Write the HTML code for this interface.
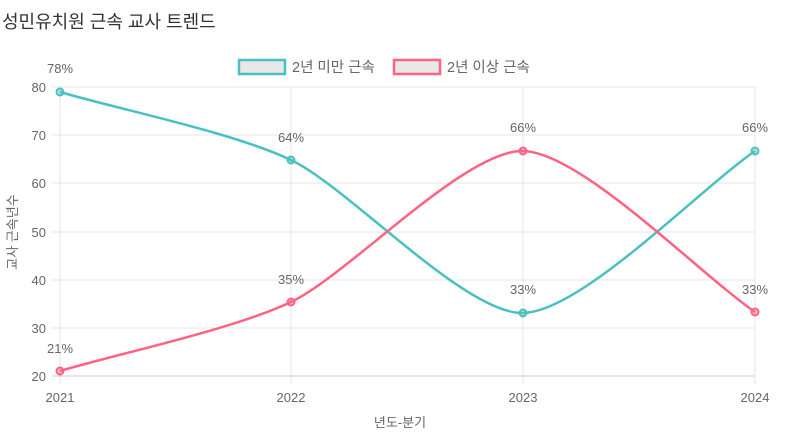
<!DOCTYPE html>
<html><head><meta charset="utf-8"><style>
body{margin:0;background:#fff;}
svg{display:block;font-family:"Liberation Sans","Noto Sans CJK KR",sans-serif;}
</style></head><body>
<svg width="799" height="445" viewBox="0 0 799 445">
<text x="2" y="28" font-size="18" fill="#333">성민유치원 근속 교사 트렌드</text>
<!-- legend -->
<rect x="239" y="60" width="46" height="14" fill="#e8e8e8" stroke="#4bc0c0" stroke-width="2.5"/>
<text x="292" y="72" font-size="14.5" fill="#666">2년 미만 근속</text>
<rect x="394" y="60" width="46" height="14" fill="#e8e8e8" stroke="#ff6384" stroke-width="2.5"/>
<text x="447" y="72" font-size="14.5" fill="#666">2년 이상 근속</text>
<!-- grid -->
<g stroke="#e5e5e5" stroke-width="1">
<line x1="52" y1="87" x2="755" y2="87"/>
<line x1="52" y1="135" x2="755" y2="135"/>
<line x1="52" y1="183" x2="755" y2="183"/>
<line x1="52" y1="232" x2="755" y2="232"/>
<line x1="52" y1="280" x2="755" y2="280"/>
<line x1="52" y1="328" x2="755" y2="328"/>
<line x1="60" y1="87" x2="60" y2="384"/>
<line x1="291" y1="87" x2="291" y2="384"/>
<line x1="523" y1="87" x2="523" y2="384"/>
<line x1="755" y1="87" x2="755" y2="384"/>
</g>
<line x1="52" y1="376" x2="755" y2="376" stroke="#ccc"/>
<g font-size="13" fill="#666" text-anchor="end">
<text x="46" y="92">80</text><text x="46" y="140">70</text><text x="46" y="188">60</text>
<text x="46" y="237">50</text><text x="46" y="285">40</text><text x="46" y="333">30</text><text x="46" y="381">20</text>
</g>
<g font-size="13" fill="#666" text-anchor="middle">
<text x="60" y="402">2021</text><text x="291" y="402">2022</text><text x="523" y="402">2023</text><text x="755" y="402">2024</text>
<text x="400" y="427">년도-분기</text>
</g>
<text transform="translate(17,232) rotate(-90)" font-size="13" fill="#666" text-anchor="middle">교사 근속년수</text>
<!-- series -->
<path d="M60,92 C117.75,109 233.1,132.4 291,160 C348.9,187.6 465,314.1 523,313 C581,311.9 697,191.5 755,151" fill="none" stroke="#4bc0c0" stroke-width="2.5"/>
<path d="M60,371 C117.75,353.75 233.1,329.5 291,302 C348.9,274.5 465,149.75 523,151 C581,152.25 697,271.75 755,312" fill="none" stroke="#ff6384" stroke-width="2.5"/>
<g fill="rgba(75,192,192,0.4)" stroke="#4bc0c0" stroke-width="2">
<circle cx="60" cy="92" r="3.5"/><circle cx="291" cy="160" r="3.5"/><circle cx="523" cy="313" r="3.5"/><circle cx="755" cy="151" r="3.5"/>
</g>
<g fill="rgba(255,99,132,0.4)" stroke="#ff6384" stroke-width="2">
<circle cx="60" cy="371" r="3.5"/><circle cx="291" cy="302" r="3.5"/><circle cx="523" cy="151" r="3.5"/><circle cx="755" cy="312" r="3.5"/>
</g>
<g font-size="13" fill="#666" text-anchor="middle">
<text x="60" y="73">78%</text><text x="291" y="142">64%</text><text x="523" y="294">33%</text><text x="755" y="132">66%</text>
<text x="60" y="353">21%</text><text x="291" y="284">35%</text><text x="523" y="132">66%</text><text x="755" y="294">33%</text>
</g>
</svg>
</body></html>
